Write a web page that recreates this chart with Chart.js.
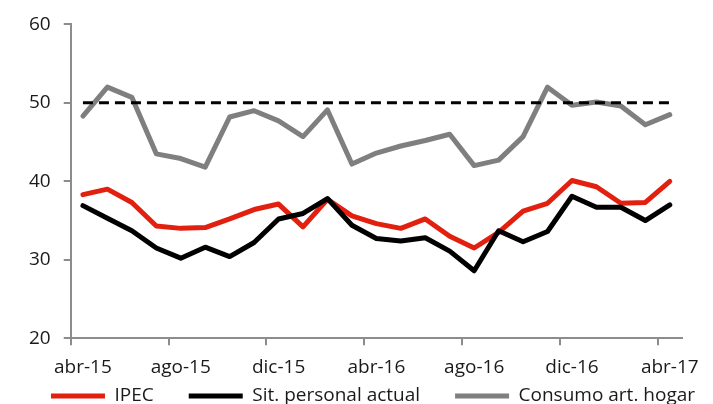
<!DOCTYPE html>
<html>
<head>
<meta charset="utf-8">
<script src="https://cdn.jsdelivr.net/npm/chart.js@4/dist/chart.umd.min.js"></script>
<style>
  html, body { margin: 0; padding: 0; background: #fff; }
  #wrap { width: 713px; height: 404px; }
</style>
</head>
<body>
<div id="wrap"><canvas id="chart" width="713" height="404"></canvas></div>
<script>
const months = [
  'abr-15', 'may-15', 'jun-15', 'jul-15', 'ago-15', 'sep-15', 'oct-15', 'nov-15', 'dic-15',
  'ene-16', 'feb-16', 'mar-16', 'abr-16', 'may-16', 'jun-16', 'jul-16', 'ago-16', 'sep-16',
  'oct-16', 'nov-16', 'dic-16', 'ene-17', 'feb-17', 'mar-17', 'abr-17',
];
const ipec = [
  38.3, 39.0, 37.3, 34.3, 34.0, 34.1, 35.2, 36.4, 37.1, 34.2, 37.7, 35.6, 34.6,
  34.0, 35.2, 33.0, 31.5, 33.5, 36.2, 37.2, 40.1, 39.3, 37.2, 37.3, 40.0,
];
const sitPersonal = [
  36.9, 35.3, 33.7, 31.5, 30.2, 31.6, 30.4, 32.2, 35.2, 35.9, 37.8, 34.4, 32.7,
  32.4, 32.8, 31.1, 28.6, 33.7, 32.3, 33.6, 38.1, 36.7, 36.7, 35.0, 37.0,
];
const consumoHogar = [
  48.3, 52.0, 50.7, 43.5, 42.9, 41.8, 48.2, 49.0, 47.7, 45.7, 49.1, 42.2, 43.6,
  44.5, 45.2, 46.0, 42.0, 42.7, 45.7, 52.0, 49.7, 50.1, 49.6, 47.2, 48.5,
];
const neutral = [
  50, 50, 50, 50, 50, 50, 50, 50, 50, 50, 50, 50, 50,
  50, 50, 50, 50, 50, 50, 50, 50, 50, 50, 50, 50,
];
const yTicks = [20, 30, 40, 50, 60];

const fontFamily = '"Open Sans", "DejaVu Sans", Arial, sans-serif';
const fontSize = 19;
const axisGray = '#8c8c8c';
const textColor = '#1a1a1a';
const legendGap = 35;
const legendY = 396;
const legendShiftX = 24;

// labels.padding sets both the gap between items and the row height;
// keep the wide gaps on one row, squeeze the box, draw the row where it belongs
const legendTweak = {
  id: 'legendTweak',
  afterInit(chart) {
    const legend = chart.legend;
    if (!legend) return;
    const fit = legend.fit.bind(legend);
    legend.fit = function () {
      const mw = this.maxWidth;
      this.maxWidth = 3000;
      fit();
      this.maxWidth = mw;
      this.width = mw;
      this.height = 14;
    };
    legend.draw = function () {
      if (!this.options.display) return;
      const ctx = this.ctx;
      const { left, right } = this;
      const dy = this.top + legendGap + fontSize / 2 - legendY;
      this.left = left - 1000;
      this.right = right + 1000;
      ctx.save();
      ctx.translate(legendShiftX, -dy);
      this._draw();
      ctx.restore();
      this.left = left;
      this.right = right;
    };
  },
};

function lineSet(label, data, color, order) {
  return {
    label,
    data,
    borderColor: color,
    backgroundColor: color,
    borderWidth: 5,
    borderCapStyle: 'round',
    borderJoinStyle: 'round',
    pointRadius: 0,
    tension: 0,
    fill: false,
    order,
  };
}

new Chart(document.getElementById('chart'), {
  type: 'line',
  data: {
    labels: months,
    datasets: [
      lineSet('IPEC', ipec, '#e2200f', 3),
      lineSet('Sit. personal actual', sitPersonal, '#000000', 2),
      lineSet('Consumo art. hogar', consumoHogar, '#7f7f7f', 4),
      {
        label: 'neutral',
        data: neutral,
        borderColor: '#000000',
        borderWidth: 3,
        borderDash: [10, 6],
        pointRadius: 0,
        fill: false,
        order: 0,
      },
    ],
  },
  plugins: [legendTweak],
  options: {
    responsive: false,
    animation: false,
    layout: { padding: { top: 11, right: 31, left: 16, bottom: 0 } },
    plugins: {
      tooltip: { enabled: false },
      legend: {
        position: 'bottom',
        labels: {
          filter: (item) => item.text !== 'neutral',
          sort: (a, b) => a.datasetIndex - b.datasetIndex,
          usePointStyle: true,
          pointStyle: 'line',
          pointStyleWidth: 54,
          boxHeight: 5,
          padding: legendGap,
          color: textColor,
          font: { family: fontFamily, size: fontSize },
        },
      },
    },
    scales: {
      x: {
        type: 'category',
        offset: true,
        grid: {
          offset: true,
          drawOnChartArea: false,
          drawTicks: true,
          tickLength: 7,
          lineWidth: 2,
          color: (ctx) => (ctx.index !== undefined && ctx.index % 4 === 0 ? axisGray : 'rgba(0,0,0,0)'),
        },
        border: { color: axisGray, width: 2 },
        ticks: {
          autoSkip: false,
          maxRotation: 0,
          padding: 11,
          color: textColor,
          font: { family: fontFamily, size: fontSize },
          callback: (val, i) => (i % 4 === 0 ? months[i] : ''),
        },
      },
      y: {
        min: 20,
        max: 60,
        afterBuildTicks: (axis) => { axis.ticks = yTicks.map((v) => ({ value: v })); },
        grid: {
          drawOnChartArea: false,
          tickLength: 7,
          lineWidth: 2,
          color: axisGray,
        },
        border: { color: axisGray, width: 2 },
        ticks: {
          padding: 13,
          color: textColor,
          font: { family: fontFamily, size: fontSize },
        },
      },
    },
  },
});
</script>
</body>
</html>
